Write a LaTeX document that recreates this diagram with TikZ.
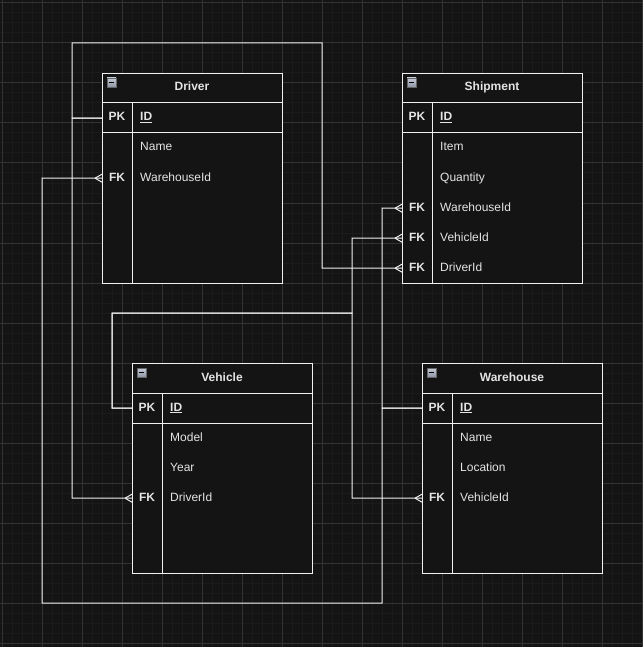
\documentclass[tikz,border=0pt]{standalone}
\usepackage{fontspec}
\setmainfont{Liberation Sans}
\definecolor{bgC}{HTML}{141414}
\definecolor{minorC}{HTML}{1B1B1B}
\definecolor{majorC}{HTML}{333333}
\definecolor{lineC}{HTML}{F0F0F0}
\definecolor{txtC}{HTML}{E4E4E4}
\definecolor{icoA}{HTML}{C4CAD6}
\definecolor{icoB}{HTML}{8E96A6}
\tikzset{
  conn/.style={draw=lineC, line width=1pt},
  tbl/.style={draw=lineC, fill=bgC, line width=1pt, anchor=north west, inner sep=0pt,
    minimum width=180pt, minimum height=210pt},
  tline/.style={draw=lineC, line width=1pt},
  rowbox/.style={anchor=north west, inner sep=0pt, minimum width=180pt, minimum height=30pt},
  titlet/.style={anchor=base, inner sep=0pt, text=txtC, font=\fontsize{12}{14}\selectfont\bfseries},
  keyt/.style={anchor=base, inner sep=0pt, text=txtC, font=\fontsize{12}{14}\selectfont\bfseries},
  fieldt/.style={anchor=base west, inner sep=0pt, text=txtC, font=\fontsize{12}{14}\selectfont},
  minusbox/.style={draw=black!60, top color=icoA, bottom color=icoB, line width=0.6pt,
    minimum width=9pt, minimum height=9pt, inner sep=0pt},
  crow/.pic={\draw[conn] (-7,0) -- (0,-4) (-7,0) -- (0,4);}
}
\newcommand\ertable[4]{%
  \begin{scope}[shift={(#2,#3)}]
    \node[tbl] (#1) at (0,0) {};
    \node[titlet] (#1-title) at (90,18) {#4};
    \node[minusbox] (#1-icon) at (9.5,9.5) {};
    \draw[black, line width=1.2pt] (#1-icon.west) ++(2,0) -- ++(5,0);
    \draw[tline] (0,30) -- (180,30) (0,60) -- (180,60) (30,30) -- (30,210);
  \end{scope}}
\newcommand\errow[5]{%
  \begin{scope}[shift={(#2,#3)}]
    \node[rowbox] (#1) at (0,0) {};
    \node[keyt] (#1-k) at (15,18) {#4};
    \node[fieldt] (#1-f) at (38,18) {#5};
  \end{scope}}
\newcommand\pkid{\textbf{\underline{ID}}}
\begin{document}
\begin{tikzpicture}[x=1pt,y=-1pt]
  \useasboundingbox (0,0) rectangle (643,647);
  \fill[bgC] (0,0) rectangle (643,647);
  \foreach \x in {2,12,...,642} \draw[minorC, line width=1pt] (\x,0) -- (\x,647);
  \foreach \y in {3,13,...,646} \draw[minorC, line width=1pt] (0,\y) -- (643,\y);
  \foreach \x in {2,42,...,642} \draw[majorC, line width=1pt] (\x,0) -- (\x,647);
  \foreach \y in {3,43,...,646} \draw[majorC, line width=1pt] (0,\y) -- (643,\y);

  % tables
  \ertable{drv}{102}{73}{Driver}
  \errow{drv-pk}{102}{103}{PK}{\pkid}
  \errow{drv-name}{102}{133}{}{Name}
  \errow{drv-wh}{102}{163}{FK}{WarehouseId}

  \ertable{shp}{402}{73}{Shipment}
  \errow{shp-pk}{402}{103}{PK}{\pkid}
  \errow{shp-item}{402}{133}{}{Item}
  \errow{shp-qty}{402}{163}{}{Quantity}
  \errow{shp-wh}{402}{193}{FK}{WarehouseId}
  \errow{shp-veh}{402}{223}{FK}{VehicleId}
  \errow{shp-drv}{402}{253}{FK}{DriverId}

  \ertable{veh}{132}{363}{Vehicle}
  \errow{veh-pk}{132}{393}{PK}{\pkid}
  \errow{veh-model}{132}{423}{}{Model}
  \errow{veh-year}{132}{453}{}{Year}
  \errow{veh-drv}{132}{483}{FK}{DriverId}

  \ertable{wh}{422}{363}{Warehouse}
  \errow{wh-pk}{422}{393}{PK}{\pkid}
  \errow{wh-name}{422}{423}{}{Name}
  \errow{wh-loc}{422}{453}{}{Location}
  \errow{wh-veh}{422}{483}{FK}{VehicleId}

  % connectors
  \draw[conn] (drv-pk.west) -- (72,118) -- (72,43) -- (322,43) -- (322,268) -- (shp-drv.west);
  \draw[conn] (drv-pk.west) -- (72,118) -- (72,498) -- (veh-drv.west);
  \draw[conn] (wh-pk.west) -- (382,408) -- (382,603) -- (42,603) -- (42,178) -- (drv-wh.west);
  \draw[conn] (wh-pk.west) -- (382,408) -- (382,208) -- (shp-wh.west);
  \draw[conn] (veh-pk.west) -- (112,408) -- (112,313) -- (352,313) -- (352,238) -- (shp-veh.west);
  \draw[conn] (veh-pk.west) -- (112,408) -- (112,313) -- (352,313) -- (352,498) -- (wh-veh.west);

  \pic at (shp-drv.west) {crow};
  \pic at (veh-drv.west) {crow};
  \pic at (drv-wh.west) {crow};
  \pic at (shp-wh.west) {crow};
  \pic at (shp-veh.west) {crow};
  \pic at (wh-veh.west) {crow};
\end{tikzpicture}
\end{document}
